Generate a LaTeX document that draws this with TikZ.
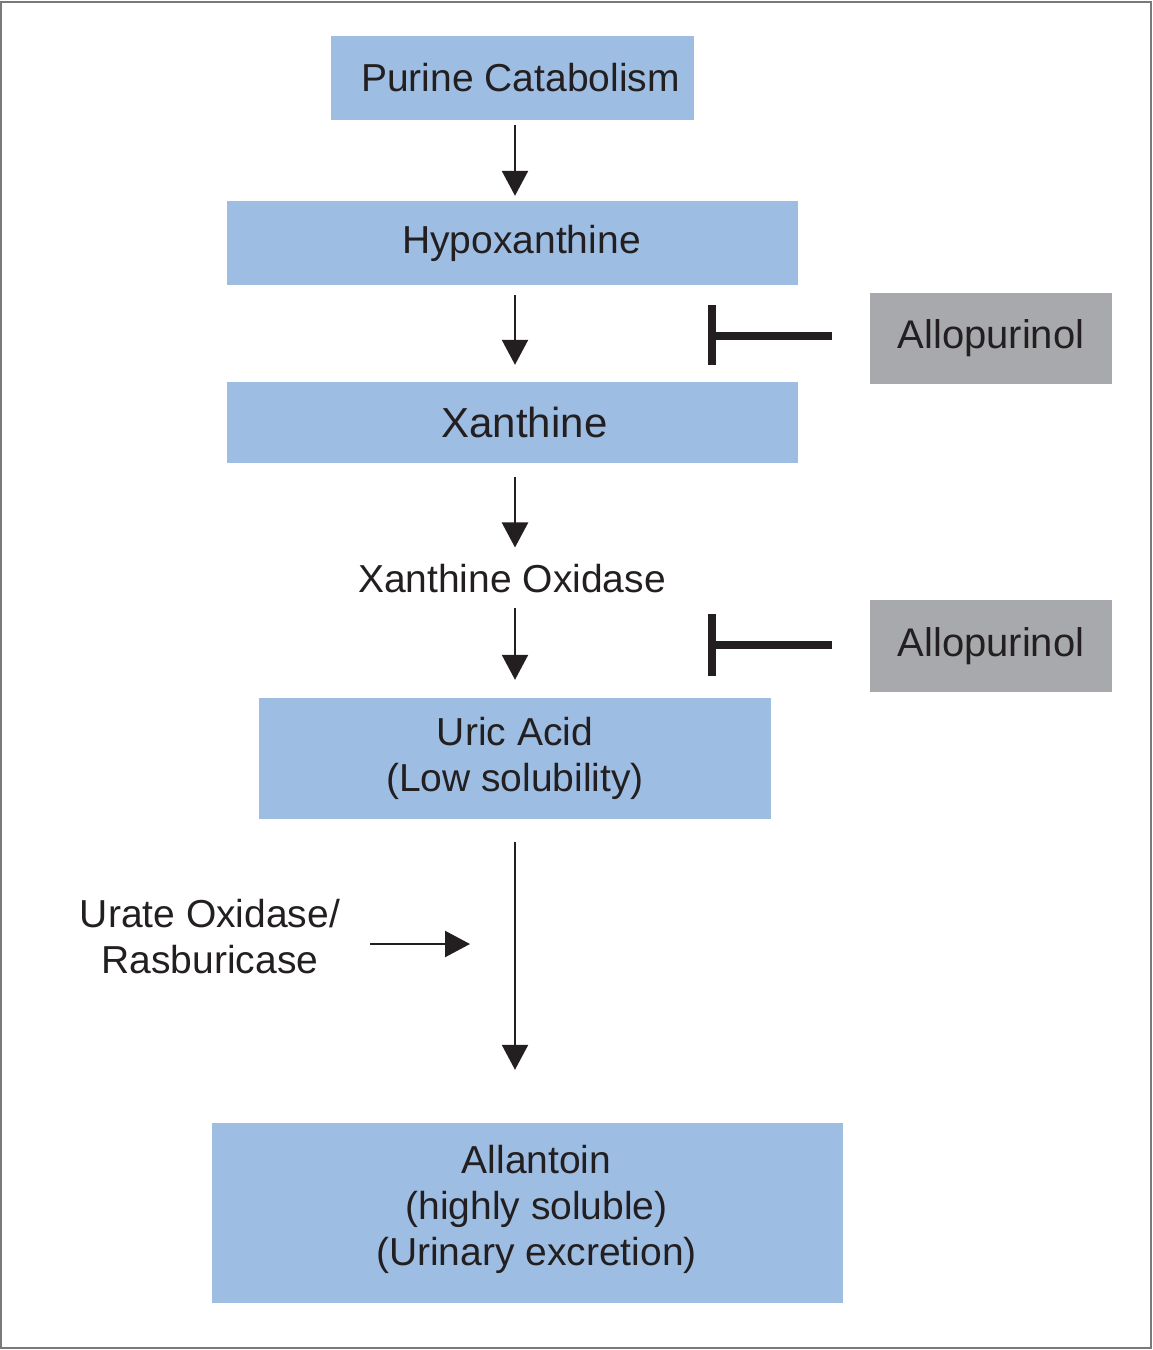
\documentclass[tikz,border=0pt]{standalone}
\usepackage{fontspec}
\setmainfont{Liberation Sans}
\usetikzlibrary{arrows.meta}
\definecolor{boxblue}{HTML}{9DBDE3}
\definecolor{boxgray}{HTML}{A7A9AC}
\definecolor{ink}{HTML}{231F20}
\definecolor{framegray}{HTML}{7A7A7A}
\begin{document}
\begin{tikzpicture}[x=1pt,y=-1pt,
  txt/.style={font=\fontsize{39}{46}\selectfont, text=ink, align=center, inner sep=0pt},
  bluebox/.style={txt, fill=boxblue, draw=none},
  graybox/.style={txt, fill=boxgray, draw=none, font=\fontsize{40}{46}\selectfont},
  arr/.style={draw=ink, line width=2.4pt, -{Triangle[length=25pt,width=26pt]}},
  inhib/.style={draw=ink, line width=8pt, line cap=butt}]
\useasboundingbox (0,0) rectangle (1153,1350);
\draw[framegray, line width=2pt] (1,2) rectangle (1151,1348);

\node[bluebox, minimum width=363pt, minimum height=84pt] (purine) at (512.5,78) {\hspace*{16pt}Purine Catabolism};
\node[bluebox, minimum width=571pt, minimum height=84pt] (hypo) at (512.5,243) {\hspace*{18pt}Hypoxanthine};
\node[bluebox, minimum width=571pt, minimum height=81pt, font=\fontsize{42}{46}\selectfont] (xan) at (512.5,422.5) {\hspace*{24pt}Xanthine};
\node[txt] (xo) at (512,579) {Xanthine Oxidase};
\node[bluebox, minimum width=512pt, minimum height=121pt] (uric) at (515,758.5) {Uric Acid\\(Low solubility)};
\node[bluebox, minimum width=631pt, minimum height=180pt] (allan) at (527.5,1213) {\hspace*{18pt}Allantoin\\\hspace*{18pt}(highly soluble)\\\hspace*{18pt}(Urinary excretion)\\[-30pt]};
\node[graybox, minimum width=242pt, minimum height=91pt] (allo1) at (991,338.5) {Allopurinol};
\node[graybox, minimum width=242pt, minimum height=92pt] (allo2) at (991,646) {Allopurinol};
\node[txt] (urate) at (210,937) {Urate Oxidase/\\Rasburicase};

\coordinate (ax) at (515,0);
\draw[arr, shorten <=5pt, shorten >=5pt] (purine.south -| ax) -- (hypo.north -| ax);
\draw[arr, shorten <=10pt, shorten >=17pt] (hypo.south -| ax) -- (xan.north -| ax);
\draw[arr, shorten <=14pt, shorten >=17pt] (xan.south -| ax) -- (xo.north -| ax);
\draw[arr, shorten <=14pt, shorten >=18pt] (xo.south -| ax) -- (uric.north -| ax);
\draw[arr, shorten <=23pt, shorten >=53pt] (uric.south -| ax) -- (allan.north -| ax);

\coordinate (ua) at (370,944);
\coordinate (ub) at (470,944);
\draw[arr] (ua) -- (ub);

\coordinate (t1) at (712,336);
\coordinate (t2) at (712,645);
\draw[inhib, shorten <=38pt] (allo1.west |- t1) -- (t1);
\draw[inhib] ([yshift=-29pt]t1) -- ([yshift=31pt]t1);
\draw[inhib, shorten <=38pt] (allo2.west |- t2) -- (t2);
\draw[inhib] ([yshift=-31pt]t2) -- ([yshift=31pt]t2);
\end{tikzpicture}
\end{document}
